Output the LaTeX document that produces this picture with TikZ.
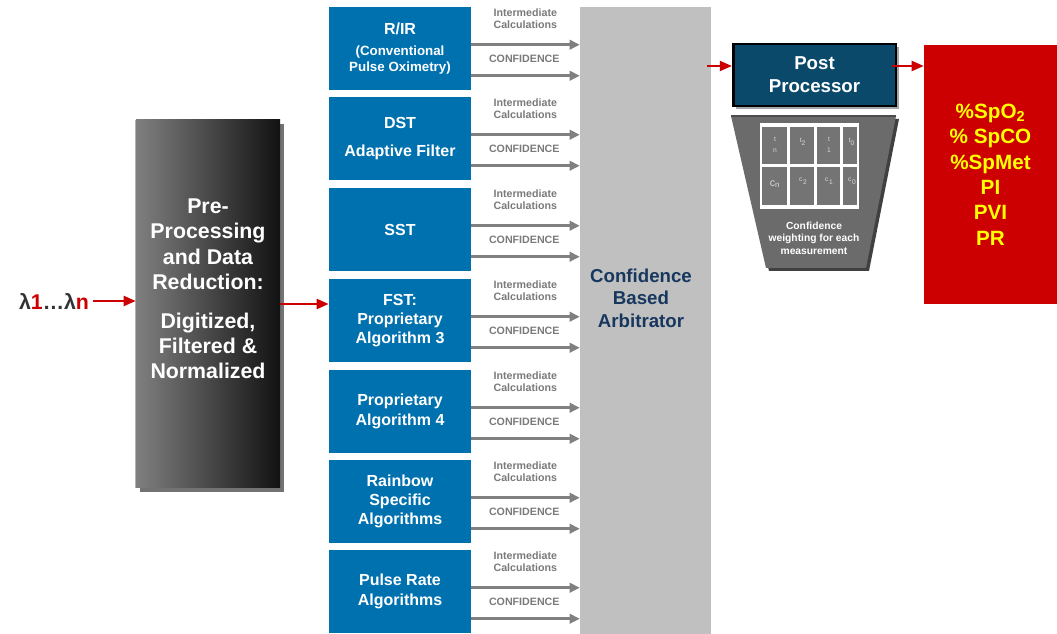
\documentclass[tikz,border=0pt]{standalone}
\usepackage{fontspec}
\setmainfont{Liberation Sans}
\usepackage{tikz}
\usetikzlibrary{arrows.meta,positioning}

\definecolor{algblue}{HTML}{0071AF}
\definecolor{arbgray}{HTML}{C0C0C0}
\definecolor{arrowgray}{HTML}{808080}
\definecolor{lblgray}{HTML}{7A7A7A}
\definecolor{arbnavy}{HTML}{17375E}
\definecolor{postteal}{HTML}{0B496B}
\definecolor{outred}{HTML}{CC0000}
\definecolor{outyellow}{HTML}{FFFF00}
\definecolor{trapgray}{HTML}{6B6B6B}
\definecolor{cellgray}{HTML}{747474}
\definecolor{celltxt}{HTML}{D8D8D8}

\newcommand{\smallalg}{\fontsize{10}{12}\selectfont}

\begin{document}
\begin{tikzpicture}[x=0.75pt,y=0.75pt,yscale=-1,xscale=1,
  algbox/.style={fill=algblue, text=white, font=\bfseries\fontsize{12}{14.5}\selectfont,
    align=center, minimum width=106.5pt, minimum height=62.25pt, inner sep=0pt},
  smalllbl/.style={text=lblgray, font=\bfseries\fontsize{8}{9}\selectfont, align=center, inner sep=0pt},
  grayarr/.style={draw=arrowgray, line width=2.25pt, -{Triangle[length=7.5pt,width=7pt]}},
  redarr/.style={draw=outred, line width=1.5pt, -{Triangle[length=9pt,width=7.5pt]}},
  celllbl/.style={text=celltxt, font=\fontsize{5}{6}\selectfont, align=center, inner sep=0pt},
]
\useasboundingbox (0,0) rectangle (1057,634);
\fill[white] (0,0) rectangle (1057,634);

% Input
\node[font=\bfseries\fontsize{16}{18}\selectfont, text=black!80, inner sep=0pt] (inp) at (54,301)
  {λ\textcolor{outred}{1}…λ\textcolor{outred}{n}};

% Pre-processing block
\fill[black!55] (140,124) rectangle (284,492);
\node[left color=black!50, right color=black!93, draw=none, minimum width=108pt, minimum height=276pt,
  inner sep=0pt] (pre) at (208,304) {};
\draw[black!30, line width=1pt] (pre.north west) -- (pre.south west);
\node[text=white, font=\bfseries\fontsize{16}{19}\selectfont, align=center, inner sep=0pt] (pretxt) at (208,289)
  {Pre-\\Processing\\and Data\\Reduction:\\[10pt]Digitized,\\Filtered \&\\Normalized};

% Arbitrator
\node[fill=arbgray, minimum width=98.25pt, minimum height=470.25pt, inner sep=0pt] (arb) at (645.5,320.5) {};
\node[text=arbnavy, font=\bfseries\fontsize{14}{17}\selectfont, align=center, inner sep=0pt] (arbtxt) at (641,298)
  {Confidence\\Based\\Arbitrator};

% Algorithm blocks
\foreach \i/\top/\txt in {
  1/7/{R/IR\\[1pt]\smallalg(Conventional\\[-2.5pt]\smallalg Pulse Oximetry)},
  2/97/{DST\\[7pt]Adaptive Filter},
  3/188/{SST},
  4/279/{FST:\\Proprietary\\Algorithm 3},
  5/370/{Proprietary\\Algorithm 4},
  6/460/{Rainbow\\Specific\\Algorithms},
  7/550/{Pulse Rate\\Algorithms}}{
  \node[algbox] (alg\i) at (400,\top+41.5) {\txt};
  \path (alg\i.north east) ++(0,38) coordinate (ia\i) ++(0,31) coordinate (ca\i);
  \draw[grayarr] (ia\i) -- (ia\i -| arb.west);
  \draw[grayarr] (ca\i) -- (ca\i -| arb.west);
  \path (alg\i.north east) ++(54,12) node[smalllbl] (il\i) {Intermediate\\Calculations}
    ++(-1,40) node[smalllbl] (cl\i) {CONFIDENCE};
}

%Straight Lines
\draw[redarr] (inp.east) ++(4,0) -- (pre.west |- inp.east);
\draw[redarr] (pre.east) -- (pre.east -| alg4.west);

% Post processor
\fill[black!35] (736,47) rectangle (899,109);
\node[fill=postteal, draw=black, line width=2pt, text=white, font=\bfseries\fontsize{14}{17}\selectfont,
  align=center, minimum width=122pt, minimum height=46.5pt, inner sep=0pt] (post) at (814.5,75) {Post\\Processor};

% Outputs
\node[fill=outred, text=outyellow, font=\bfseries\fontsize{15.5}{19}\selectfont, align=center,
  minimum width=99.75pt, minimum height=194.25pt, inner sep=0pt] (out) at (990.5,174.5)
  {\%SpO\textsubscript{2}\\\% SpCO\\\%SpMet\\PI\\PVI\\PR};

\coordinate (lvl) at (0,66);
\draw[redarr] ([xshift=-3pt]arb.east |- lvl) -- (post.west |- lvl);
\draw[redarr] ([xshift=-4pt]post.east |- lvl) -- (out.west |- lvl);

% Confidence weighting
\fill[black!75] (734,119) -- (899,119) -- (869,271) -- (769,271) -- cycle;
\fill[trapgray] (731,116) -- (896,116) -- (866,268) -- (766,268) -- cycle;
\draw[black!70, line width=1.2pt] (731,116) -- (896,116);
\fill[white] (760,123) rectangle (859,209);
\foreach \xa/\xb in {762/787,790/814,817/840,843/857}{
  \fill[cellgray] (\xa,127) rectangle (\xb,164);
  \fill[cellgray] (\xa,167) rectangle (\xb,205);
}
% Text Node
\node[celllbl] (t1) at (775,145) {t\\[2pt]n};
\node[celllbl] (t2) at (803,142) {t\textsubscript{2}};
\node[celllbl] (t3) at (829,145) {t\\[2pt]1};
\node[celllbl] (t4) at (852,142) {t\textsubscript{0}};
\node[celllbl, font=\fontsize{8}{9}\selectfont] (c1) at (775,184) {c\textsubscript{n}};
\node[celllbl] (c2) at (803,181) {\textsuperscript{c}2};
\node[celllbl] (c3) at (829,181) {\textsuperscript{c}1};
\node[celllbl] (c4) at (852,181) {\textsuperscript{c}0};
\node[text=white, font=\bfseries\fontsize{7.7}{9.4}\selectfont, align=center, inner sep=0pt] (cwtxt) at (814,238)
  {Confidence\\weighting for each\\measurement};

\end{tikzpicture}
\end{document}
